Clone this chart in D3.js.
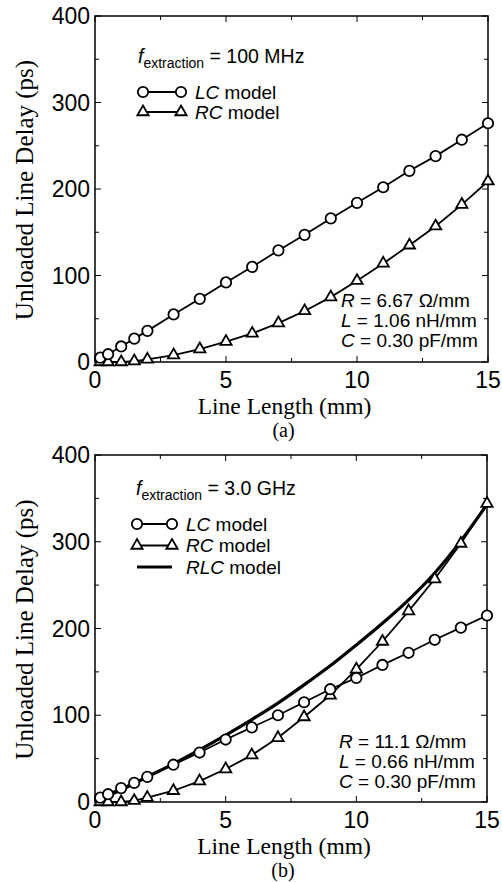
<!DOCTYPE html>
<html><head><meta charset="utf-8">
<script src="https://cdn.jsdelivr.net/npm/d3@7"></script>
<style>body{margin:0;background:#fff}</style>
</head><body>
<svg id="c" width="502" height="882"></svg>
<script>
// ---- data ----
const xLen = [0.2,0.5,1,1.5,2,3,4,5,6,7,8,9,10,11,12,13,14,15];
const lcA  = [5,9,18,27,36,55,73,92,110,129,147,166,184,202,221,238,257,276];
const rcA  = [0,0,0,1,3,8,15,23.5,33,45,59,75,94,114,135,157,182,209];
const lcB  = [5,9,16,22,29,43,57,72,86,100,115,130,143,158,172,187,201,215];
const rcB  = [0,0,0,1.5,5,13,24,38,54,74,98,123,153,185,220,257,298,344];
const rlcX = [0,1,2,3,4,5,6,7,8,9,10,11,12,13,14,15];
const rlcB = [0,14,29,44,60,77,95,114,135,157,181,206,233,264,301,343];
const xTicks = [0,5,10,15];
const yTicks = [0,100,200,300,400];

const svg = d3.select("#c");
const SANS = "'Liberation Sans', Arial, sans-serif";
const SERIF = "'Liberation Serif', 'Times New Roman', serif";
const SW = 1.8;

function panel(o){
  const x = d3.scaleLinear().domain([0,15]).range([o.l,o.r]);
  const y = d3.scaleLinear().domain([0,400]).range([o.b,o.t]);
  const g = svg.append("g");
  // ticks inside, all four sides
  const tk = g.append("g").attr("stroke","#000").attr("stroke-width",1);
  d3.range(0,15.01,2.5).forEach(v=>{
    const len = (v%5===0)?6:4;
    tk.append("line").attr("x1",x(v)).attr("x2",x(v)).attr("y1",o.b).attr("y2",o.b-len);
    tk.append("line").attr("x1",x(v)).attr("x2",x(v)).attr("y1",o.t).attr("y2",o.t+len);
  });
  d3.range(0,400.1,50).forEach(v=>{
    const len = (v%100===0)?6:4;
    tk.append("line").attr("y1",y(v)).attr("y2",y(v)).attr("x1",o.l).attr("x2",o.l+len);
    tk.append("line").attr("y1",y(v)).attr("y2",y(v)).attr("x1",o.r).attr("x2",o.r-len);
  });
  g.append("rect").attr("x",o.l).attr("y",o.t).attr("width",o.r-o.l).attr("height",o.b-o.t)
    .attr("fill","none").attr("stroke","#000").attr("stroke-width",1.5);
  // tick labels
  g.selectAll(".yl").data(yTicks).enter().append("text")
    .attr("x",o.l-5).attr("y",d=>y(d)+8).attr("text-anchor","end")
    .style("font-family",SANS).style("font-size","23px").text(d=>d);
  g.selectAll(".xl").data(xTicks).enter().append("text")
    .attr("x",d=>x(d)).attr("y",o.b+26).attr("text-anchor","middle")
    .style("font-family",SANS).style("font-size","23px").text(d=>d);
  // axis titles
  g.append("text").attr("x",(o.l+o.r)/2-7).attr("y",o.b+52).attr("text-anchor","middle")
    .style("font-family",SERIF).style("font-size","23.5px").text("Line Length (mm)");
  g.append("text").attr("x",(o.l+o.r)/2-8).attr("y",o.b+75).attr("text-anchor","middle")
    .style("font-family",SERIF).style("font-size","20px").text(o.cap);
  g.append("text").attr("transform",`translate(${o.l-62},${(o.t+o.b)/2+1}) rotate(-90)`)
    .attr("text-anchor","middle").style("font-family",SERIF).style("font-size","25px")
    .text("Unloaded Line Delay (ps)");

  const line = d3.line().x(d=>x(d[0])).y(d=>y(d[1]));
  if(o.rlc){
    g.append("path").datum(d3.zip(rlcX,o.rlc)).attr("d",d3.line().curve(d3.curveMonotoneX).x(d=>x(d[0])).y(d=>y(d[1])))
      .attr("fill","none").attr("stroke","#000").attr("stroke-width",3.2);
  }
  const rcPts = d3.zip(xLen,o.rc), lcPts = d3.zip(xLen,o.lc);
  g.append("path").datum(rcPts).attr("d",line).attr("fill","none").attr("stroke","#000").attr("stroke-width",SW);
  g.append("path").datum(lcPts).attr("d",line).attr("fill","none").attr("stroke","#000").attr("stroke-width",SW);
  const tri = d3.symbol().type(d3.symbolTriangle).size(55);
  g.selectAll(".tri").data(rcPts).enter().append("path").attr("d",tri)
    .attr("transform",d=>`translate(${x(d[0])},${y(d[1])})`)
    .attr("fill","#fff").attr("stroke","#000").attr("stroke-width",SW);
  g.selectAll(".cir").data(lcPts).enter().append("circle")
    .attr("cx",d=>x(d[0])).attr("cy",d=>y(d[1])).attr("r",5.2)
    .attr("fill","#fff").attr("stroke","#000").attr("stroke-width",SW);

  // legend
  const L = o.leg;
  const ft = g.append("text").attr("x",L.fx).attr("y",L.fy).style("font-family",SANS).style("font-size","19.5px");
  ft.append("tspan").style("font-style","italic").text("f");
  ft.append("tspan").attr("dy",5).style("font-size","14px").text("extraction");
  ft.append("tspan").attr("dy",-5).text(" = " + o.freq);
  const rows = [["LC","c"],["RC","t"]];
  if(o.rlc) rows.push(["RLC","l"]);
  rows.forEach((r,i)=>{
    const yy = L.ry + i*L.dy;
    if(r[1]==="l"){
      g.append("line").attr("x1",L.x1).attr("x2",L.x2).attr("y1",yy).attr("y2",yy).attr("stroke","#000").attr("stroke-width",3.2);
    } else {
      g.append("line").attr("x1",L.x1).attr("x2",L.x2).attr("y1",yy).attr("y2",yy).attr("stroke","#000").attr("stroke-width",SW);
      [L.x1,L.x2].forEach(xx=>{
        if(r[1]==="c") g.append("circle").attr("cx",xx).attr("cy",yy).attr("r",5.2).attr("fill","#fff").attr("stroke","#000").attr("stroke-width",SW);
        else g.append("path").attr("d",tri).attr("transform",`translate(${xx},${yy})`).attr("fill","#fff").attr("stroke","#000").attr("stroke-width",SW);
      });
    }
    const t = g.append("text").attr("x",L.tx).attr("y",yy+6.5).style("font-family",SANS).style("font-size","19px");
    t.append("tspan").style("font-style","italic").text(r[0]);
    t.append("tspan").text(" model");
  });
  // parameters
  o.params.forEach((p,i)=>{
    const t = g.append("text").attr("x",o.px).attr("y",o.py+i*20).style("font-family",SANS).style("font-size","19px");
    t.append("tspan").style("font-style","italic").text(p[0]);
    t.append("tspan").text(p[1]);
  });
}

panel({l:95,r:488,t:16,b:362,lc:lcA,rc:rcA,cap:"(a)",freq:"100 MHz",
  leg:{fx:138,fy:63,ry:92,dy:20,x1:143,x2:181,tx:195},
  params:[["R"," = 6.67 \u03A9/mm"],["L"," = 1.06 nH/mm"],["C"," = 0.30 pF/mm"]],px:341,py:307});
panel({l:95,r:487,t:455,b:802,lc:lcB,rc:rcB,rlc:rlcB,cap:"(b)",freq:"3.0 GHz",
  leg:{fx:136,fy:495,ry:524,dy:21.5,x1:137,x2:172,tx:186},
  params:[["R"," = 11.1 \u03A9/mm"],["L"," = 0.66 nH/mm"],["C"," = 0.30 pF/mm"]],px:339,py:748});
</script>
</body></html>
